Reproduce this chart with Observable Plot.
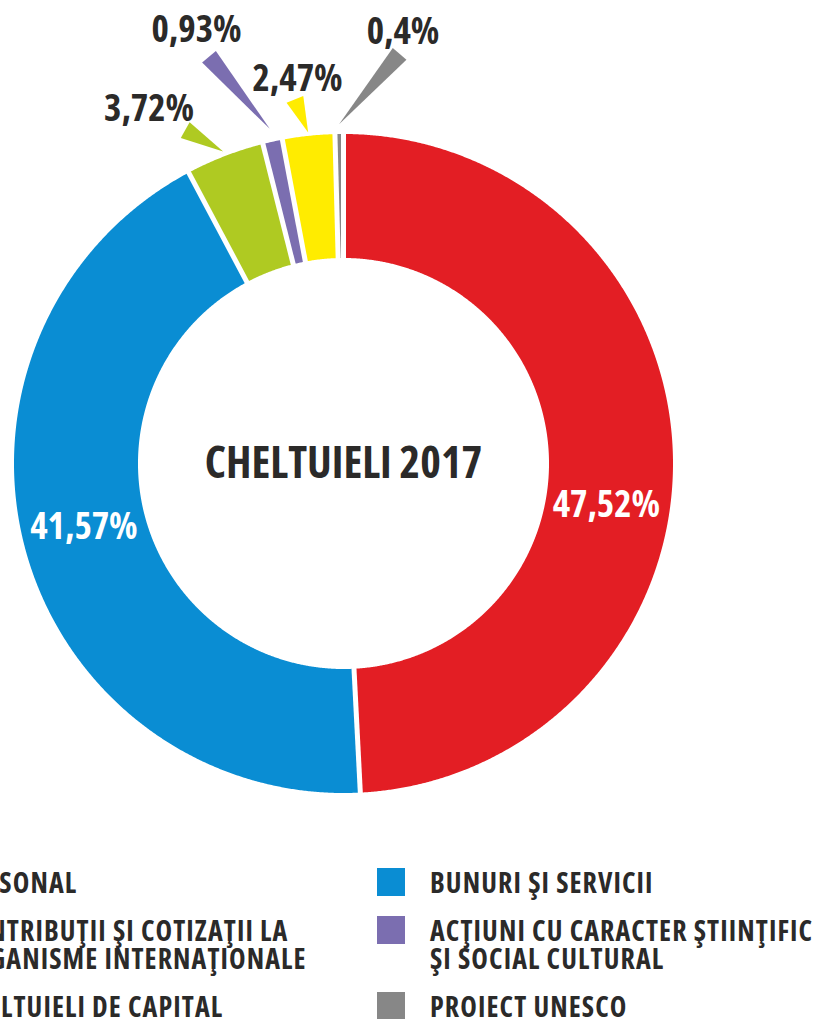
<!DOCTYPE html>
<html><head><meta charset="utf-8">
<script src="https://cdn.jsdelivr.net/npm/d3@7"></script>
<script src="https://cdn.jsdelivr.net/npm/@observablehq/plot@0.6"></script>
<style>
html,body{margin:0;padding:0;background:#fff;overflow:hidden}
#page{position:relative;width:818px;height:1019px;overflow:hidden;font-family:'Open Sans',sans-serif;font-stretch:75%;font-weight:700;color:#2b2a29}
#chart{position:absolute;left:0;top:0}
#chart svg text{font-stretch:75%}
#legend{position:absolute;top:868px;left:-97px;display:grid;grid-template-columns:474px 474px;grid-template-rows:48px 76px 40px}
.item{display:flex;align-items:flex-start}
.sw{width:28px;height:28px;flex:none;margin-right:25px}
.tx{font-size:28px;line-height:28px;white-space:nowrap;letter-spacing:1.1px}
</style></head><body><div id="page"><div id="chart"></div><div id="legend"></div></div>
<script>
// ---- data ----
const categories = ["PERSONAL", "BUNURI ŞI SERVICII", "CHELTUIELI DE CAPITAL",
  "ACŢIUNI CU CARACTER ŞTIINŢIFIC ŞI SOCIAL CULTURAL",
  "CONTRIBUŢII ŞI COTIZAŢII LA ORGANISME INTERNAŢIONALE", "PROIECT UNESCO"];
const values = [47.52, 41.57, 3.72, 0.93, 2.47, 0.4];
const percentLabels = ["47,52%", "41,57%", "3,72%", "0,93%", "2,47%", "0,4%"];
const colors = ["#e31e24", "#0a8dd3", "#afca22", "#7b6eb0", "#ffec00", "#878787"];
const legendLines = [["PERSONAL"], ["BUNURI ŞI SERVICII"], ["CHELTUIELI DE CAPITAL"],
  ["ACŢIUNI CU CARACTER ŞTIINŢIFIC", "ŞI SOCIAL CULTURAL"],
  ["CONTRIBUŢII ŞI COTIZAŢII LA", "ORGANISME INTERNAŢIONALE"], ["PROIECT UNESCO"]];
const legendOrder = [0, 1, 4, 3, 2, 5];
const title = "CHELTUIELI 2017";

// ---- layout ----
const W = 818, H = 850, CX = 343, CY = 463, R = 329.5, INNER = 0.6237;
const deg = Math.PI / 180;
// label placement (angle in degrees clockwise from top, radius in units of outer radius)
const labelLayout = {
  0: {textA: 99.07, textR: 0.808, inside: true},
  1: {textA: 256.25, textR: 0.811, inside: true},
  2: {tipR: 1.015, baseA: -25.4, baseR: 1.12, textA: -28.75, textR: 1.227},
  3: {tipR: 1.04, baseA: -18.3, baseR: 1.30, textA: -18.75, textR: 1.388},
  4: {tipR: 1.01, baseA: -7.6, baseR: 1.115, textA: -6.83, textR: 1.174},
  5: {tipR: 1.03, baseA: 7.8, baseR: 1.255, textA: 7.85, textR: 1.322}
};
const pol = (a, r) => ({x: r * Math.sin(a), y: -r * Math.cos(a)});

const arcs = d3.pie().sort(null).value(d => d)(values);

const slicePts = [];
arcs.forEach((a, i) => {
  const n = Math.max(2, Math.ceil((a.endAngle - a.startAngle) / (0.25 * deg)));
  const pts = [];
  for (let k = 0; k <= n; k++) pts.push(pol(a.startAngle + (a.endAngle - a.startAngle) * k / n, 1));
  for (let k = n; k >= 0; k--) pts.push(pol(a.startAngle + (a.endAngle - a.startAngle) * k / n, INNER));
  pts.push(pts[0]);
  pts.forEach(p => slicePts.push({...p, cat: categories[i]}));
});

const gaps = arcs.map(a => {
  const p1 = pol(a.startAngle, INNER - 0.03), p2 = pol(a.startAngle, 1.03);
  return {x1: p1.x, y1: p1.y, x2: p2.x, y2: p2.y};
});

const pointerPts = [];
const labelsIn = [], labelsOut = [];
arcs.forEach((a, i) => {
  const L = labelLayout[i];
  const t = pol(L.textA * deg, L.textR);
  (L.inside ? labelsIn : labelsOut).push({x: t.x, y: t.y, label: percentLabels[i]});
  if (L.tipR) {
    const mid = (a.startAngle + a.endAngle) / 2;
    const T = pol(mid, L.tipR), B = pol(L.baseA * deg, L.baseR);
    const dx = B.x - T.x, dy = B.y - T.y, len = Math.hypot(dx, dy);
    const nx = -dy / len, ny = dx / len, hw = 9 / R;
    [T, {x: B.x + nx * hw, y: B.y + ny * hw}, {x: B.x - nx * hw, y: B.y - ny * hw}, T]
      .forEach(p => pointerPts.push({...p, cat: categories[i]}));
  }
});

const chart = Plot.plot({
  width: W, height: H, margin: 0,
  x: {axis: null, domain: [-CX / R, (W - CX) / R], range: [0, W]},
  y: {axis: null, domain: [-CY / R, (H - CY) / R], range: [0, H]},
  color: {domain: categories, range: colors},
  style: {fontFamily: "'Open Sans', sans-serif", background: "white"},
  marks: [
    Plot.line(slicePts, {x: "x", y: "y", z: "cat", fill: "cat", stroke: "none", curve: "linear"}),
    Plot.link(gaps, {x1: "x1", y1: "y1", x2: "x2", y2: "y2", stroke: "white", strokeWidth: 5, strokeLinecap: "butt"}),
    Plot.line(pointerPts, {x: "x", y: "y", z: "cat", fill: "cat", stroke: "none", curve: "linear"}),
    Plot.text(labelsIn, {x: "x", y: "y", text: "label", fill: "white", fontSize: 37, fontWeight: 700, textAnchor: "middle", lineAnchor: "middle"}),
    Plot.text(labelsOut, {x: "x", y: "y", text: "label", fill: "#2b2a29", fontSize: 37, fontWeight: 700, textAnchor: "middle", lineAnchor: "middle"}),
    Plot.text([title], {x: () => 0, y: () => 0, text: d => d, fill: "#2b2a29", fontSize: 44, fontWeight: 700, textAnchor: "middle", lineAnchor: "middle"})
  ]
});
document.getElementById("chart").appendChild(chart);

const legend = document.getElementById("legend");
legendOrder.forEach(i => {
  const item = document.createElement("div");
  item.className = "item";
  const sw = document.createElement("div");
  sw.className = "sw";
  sw.style.background = colors[i];
  const tx = document.createElement("div");
  tx.className = "tx";
  tx.innerHTML = legendLines[i].join("<br>");
  item.append(sw, tx);
  legend.appendChild(item);
});
</script></body></html>
